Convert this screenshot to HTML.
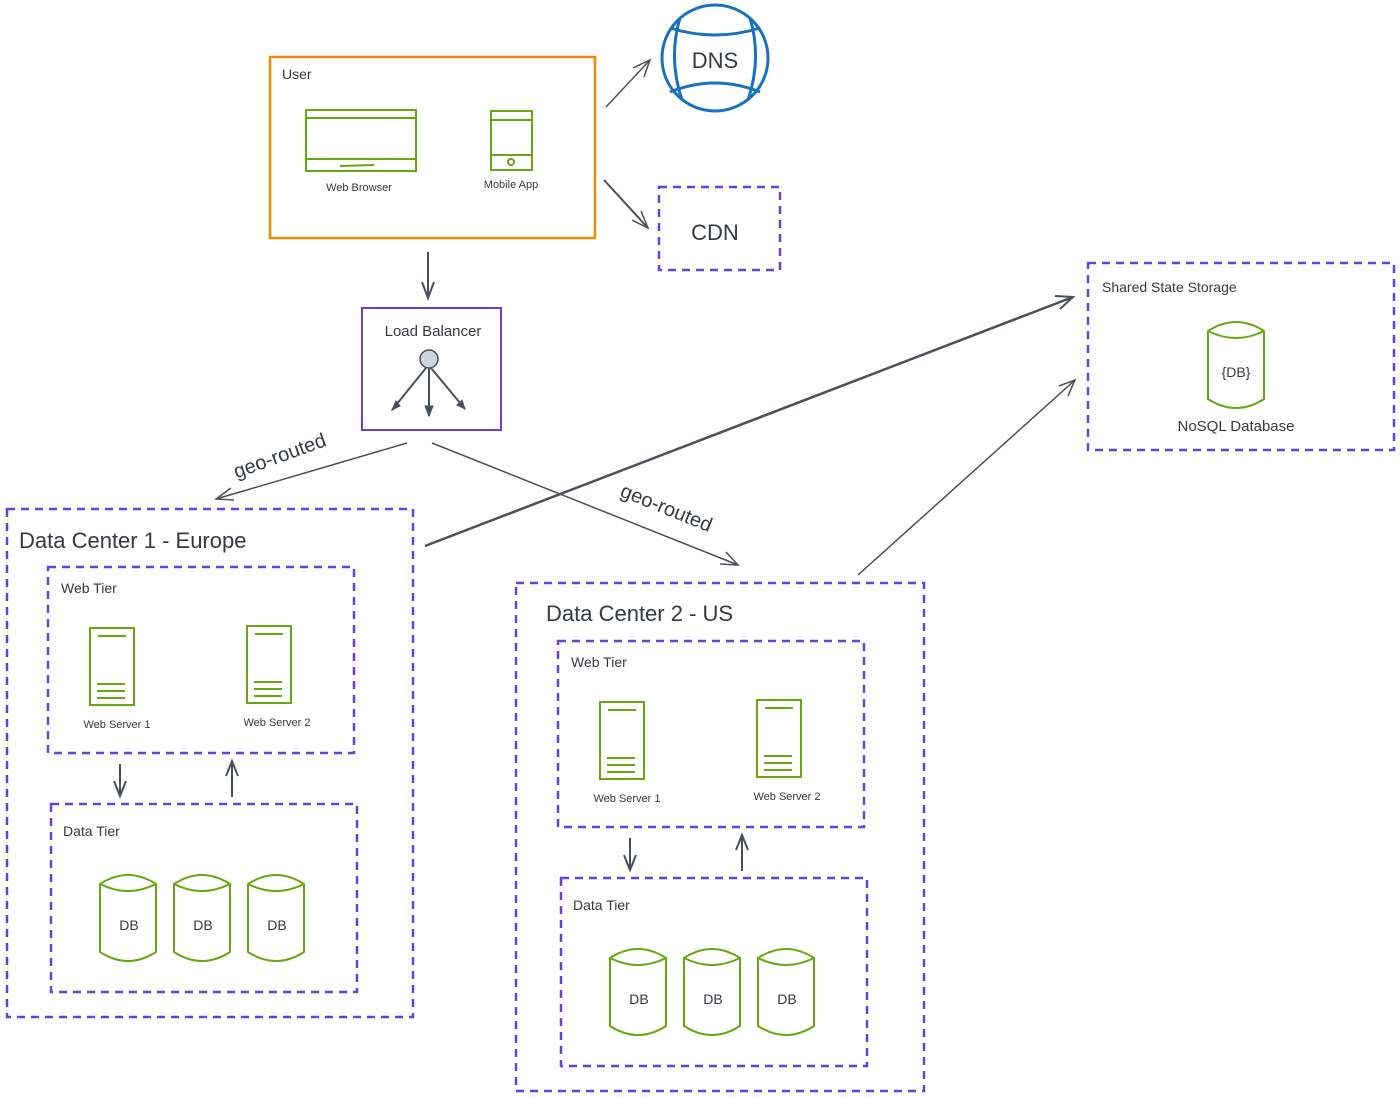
<!DOCTYPE html>
<html><head><meta charset="utf-8"><style>
html,body{margin:0;padding:0;background:#fff}
svg{display:block}
text{font-family:"Liberation Sans",sans-serif;fill:#343a40}
</style></head><body>
<svg width="1400" height="1098" viewBox="0 0 1400 1098" xmlns="http://www.w3.org/2000/svg">
<defs>
<g id="srv">
<rect x="0" y="0" width="44" height="77" fill="none" stroke="#66a80f" stroke-width="2"/>
<line x1="8" y1="8" x2="36" y2="8" stroke="#66a80f" stroke-width="2"/>
<line x1="7" y1="56" x2="35" y2="56" stroke="#66a80f" stroke-width="2"/>
<line x1="7" y1="63" x2="35" y2="63" stroke="#66a80f" stroke-width="2"/>
<line x1="7" y1="70" x2="35" y2="70" stroke="#66a80f" stroke-width="2"/>
</g>
<g id="cyl">
<path d="M0 10 Q28 -8 56 10 L56 78 Q28 96 0 78 Z" fill="none" stroke="#66a80f" stroke-width="2"/>
<path d="M0 10 Q28 24 56 10" fill="none" stroke="#66a80f" stroke-width="2"/>
</g>
<g id="dc">
<rect x="48" y="567" width="306" height="186" fill="none" stroke="#6741d9" stroke-width="2.5" stroke-dasharray="8 6"/>
<text x="61" y="593" font-size="14">Web Tier</text>
<use href="#srv" x="90" y="628"/>
<text x="117" y="728" font-size="11" text-anchor="middle">Web Server 1</text>
<use href="#srv" x="247" y="626"/>
<text x="277" y="726" font-size="11" text-anchor="middle">Web Server 2</text>
<line x1="120" y1="764" x2="120" y2="795" stroke="#495057" stroke-width="2"/>
<path d="M114 781 L120 796 L126 781" fill="none" stroke="#495057" stroke-width="2"/>
<line x1="232" y1="797" x2="232" y2="762" stroke="#495057" stroke-width="2"/>
<path d="M226 776 L232 761 L238 776" fill="none" stroke="#495057" stroke-width="2"/>
<rect x="51" y="804" width="306" height="188" fill="none" stroke="#6741d9" stroke-width="2.5" stroke-dasharray="8 6"/>
<text x="63" y="836" font-size="14">Data Tier</text>
<use href="#cyl" x="100" y="874"/><text x="129" y="930" font-size="14" text-anchor="middle">DB</text>
<use href="#cyl" x="174" y="874"/><text x="203" y="930" font-size="14" text-anchor="middle">DB</text>
<use href="#cyl" x="248" y="874"/><text x="277" y="930" font-size="14" text-anchor="middle">DB</text>
</g>
</defs>

<!-- User -->
<rect x="270" y="57" width="325" height="181" fill="none" stroke="#f08c00" stroke-width="2.5"/>
<text x="282" y="79" font-size="14">User</text>
<rect x="306" y="110" width="110" height="61" fill="none" stroke="#66a80f" stroke-width="2"/>
<line x1="306" y1="118" x2="416" y2="118" stroke="#66a80f" stroke-width="2"/>
<line x1="306" y1="159" x2="416" y2="159" stroke="#66a80f" stroke-width="2"/>
<line x1="340" y1="166" x2="374" y2="165" stroke="#66a80f" stroke-width="2"/>
<text x="359" y="191" font-size="11" text-anchor="middle">Web Browser</text>
<rect x="491" y="111" width="41" height="59" fill="none" stroke="#66a80f" stroke-width="2"/>
<line x1="491" y1="120" x2="532" y2="120" stroke="#66a80f" stroke-width="2"/>
<line x1="491" y1="155" x2="532" y2="155" stroke="#66a80f" stroke-width="2"/>
<circle cx="511" cy="162" r="3" fill="none" stroke="#66a80f" stroke-width="2"/>
<text x="511" y="188" font-size="11" text-anchor="middle">Mobile App</text>

<!-- DNS -->
<circle cx="715" cy="58" r="53" fill="none" stroke="#1971c2" stroke-width="3"/>
<path d="M680 18 Q668 58 682 100 M750 18 Q762 58 748 100 M670 28 Q715 42 760 28 M670 92 Q715 74 760 92" fill="none" stroke="#1971c2" stroke-width="3"/>
<text x="715" y="68" font-size="22" text-anchor="middle">DNS</text>
<line x1="606" y1="107" x2="650" y2="60" stroke="#495057" stroke-width="1.5"/>
<path d="M633 68 L650 60 L644 77" fill="none" stroke="#495057" stroke-width="1.5"/>

<!-- CDN -->
<rect x="659" y="187" width="121" height="83" fill="none" stroke="#6741d9" stroke-width="2.5" stroke-dasharray="8 6"/>
<text x="715" y="240" font-size="22" text-anchor="middle">CDN</text>
<line x1="604" y1="180" x2="648" y2="228" stroke="#495057" stroke-width="2"/>
<path d="M632 220 L648 228 L641 211" fill="none" stroke="#495057" stroke-width="1.5"/>

<!-- user -> LB -->
<line x1="428" y1="252" x2="428" y2="298" stroke="#495057" stroke-width="2"/>
<path d="M422 282 L428 298 L434 282" fill="none" stroke="#495057" stroke-width="2"/>

<!-- LB -->
<rect x="362" y="308" width="139" height="122" fill="none" stroke="#6741d9" stroke-width="2"/>
<text x="433" y="336" font-size="15" text-anchor="middle">Load Balancer</text>
<circle cx="429" cy="359" r="9" fill="#ced4da" stroke="#495057" stroke-width="1.5"/>
<path d="M426 368 L392 410 M429 368 L429 416 M431 368 L465 409" stroke="#495057" stroke-width="2" fill="none"/>
<path d="M392 410 L396 401 L400 406 Z M429 416 L425 406 L433 406 Z M465 409 L457 405 L462 400 Z" fill="#495057" stroke="#495057"/>

<!-- geo-routed arrows -->
<line x1="407" y1="443" x2="216" y2="499" stroke="#495057" stroke-width="1.5"/>
<path d="M231 488 L216 499 L234 500" fill="none" stroke="#495057" stroke-width="1.5"/>
<text x="282" y="462" font-size="20" text-anchor="middle" transform="rotate(-20 282 462)">geo-routed</text>
<line x1="432" y1="443" x2="738" y2="565" stroke="#495057" stroke-width="1.5"/>
<path d="M720 564 L738 565 L726 552" fill="none" stroke="#495057" stroke-width="1.5"/>
<text x="664" y="514" font-size="20" text-anchor="middle" transform="rotate(22 664 514)">geo-routed</text>

<!-- DC -> shared -->
<line x1="425" y1="546" x2="1073" y2="297" stroke="#495057" stroke-width="2.5"/>
<path d="M1055 296 L1073 297 L1060 309" fill="none" stroke="#495057" stroke-width="2"/>
<line x1="858" y1="575" x2="1075" y2="380" stroke="#495057" stroke-width="1.5"/>
<path d="M1059 386 L1075 380 L1068 396" fill="none" stroke="#495057" stroke-width="1.5"/>

<!-- shared storage -->
<rect x="1088" y="263" width="306" height="187" fill="none" stroke="#6741d9" stroke-width="2.5" stroke-dasharray="8 6"/>
<text x="1102" y="292" font-size="14">Shared State Storage</text>
<use href="#cyl" x="1208" y="321"/>
<text x="1236" y="377" font-size="14" text-anchor="middle">{DB}</text>
<text x="1236" y="431" font-size="15" text-anchor="middle">NoSQL Database</text>

<!-- DC1 -->
<rect x="7" y="509" width="406" height="508" fill="none" stroke="#6741d9" stroke-width="2.5" stroke-dasharray="8 6"/>
<text x="19" y="548" font-size="22">Data Center 1 - Europe</text>
<use href="#dc"/>

<!-- DC2 -->
<rect x="516" y="583" width="408" height="508" fill="none" stroke="#6741d9" stroke-width="2.5" stroke-dasharray="8 6"/>
<text x="546" y="621" font-size="22">Data Center 2 - US</text>
<use href="#dc" x="510" y="74"/>
</svg>
</body></html>
